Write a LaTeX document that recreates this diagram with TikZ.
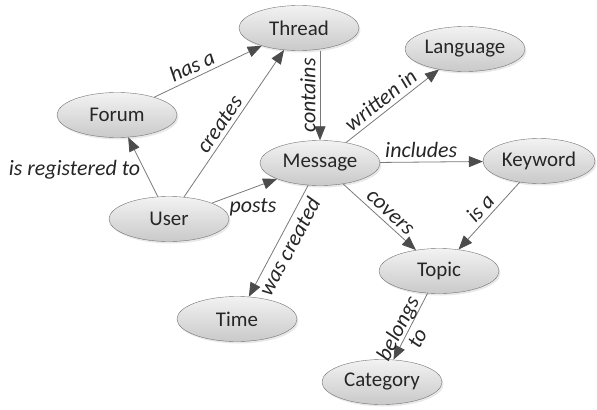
\documentclass[tikz,border=0pt]{standalone}
\usepackage{fontspec}
\setmainfont{Carlito}
\usetikzlibrary{shapes.geometric, arrows.meta, shadows}

\begin{document}
\begin{tikzpicture}[
  x=1bp, y=1bp,
  concept/.style={draw=gray!90!black, ellipse, minimum width=120bp, minimum height=45bp,
    inner sep=0pt, top color=gray!10, bottom color=gray!42,
    drop shadow={shadow xshift=1.5bp, shadow yshift=-2bp, opacity=0.18},
    font=\fontsize{21}{24}\selectfont, text=black!85},
  rel/.style={draw=gray!95!black, line width=0.8bp, -{Triangle[length=14bp, width=11bp, color=black!70]}},
  lbl/.style={font=\fontsize{22}{22}\selectfont\itshape, text=black!85, inner sep=4bp}
]
\useasboundingbox (0,0) rectangle (597,409);

\node[concept] (thread) at (299,381) {Thread};
\node[concept] (forum) at (117,294) {Forum};
\node[concept] (language) at (465,360) {Language};
\node[concept] (message) at (320,246) {Message};
\node[concept, minimum width=112bp] (keyword) at (539,248) {Keyword};
\node[concept] (user) at (169,190) {User};
\node[concept] (topic) at (439,138) {Topic};
\node[concept] (time) at (237,90) {Time};
\node[concept] (category) at (382,27) {Category};

\draw[rel] (forum) -- node[lbl, sloped, above, pos=0.4] {has a} (thread);
\draw[rel] (user) -- node[lbl, left, pos=0.45] {is registered to} (forum);
\draw[rel] (user) -- node[lbl, sloped, above, pos=0.45] {creates} (thread);
\draw[rel] (user) -- node[lbl, anchor=north west, pos=0.25, inner sep=1bp] {posts} (message);
\draw[rel] (message.north |- thread.south) -- node[lbl, rotate=90, above] {contains} (message.north);
\draw[rel] (message) -- node[lbl, sloped, above, pos=0.45] {written in} (language);
\draw[rel] (message) -- node[lbl, above, pos=0.4] {includes} (keyword);
\draw[rel] (message) -- node[lbl, sloped, above, pos=0.55] {covers} (topic);
\draw[rel] (message) -- node[lbl, sloped, below] {was created} (time);
\draw[rel] (keyword) -- node[lbl, sloped, above] {is a} (topic);
\draw[rel] (topic) -- node[lbl, sloped, pos=0.6, align=center, inner sep=0pt] {belongs\\to} (category);

\end{tikzpicture}
\end{document}
